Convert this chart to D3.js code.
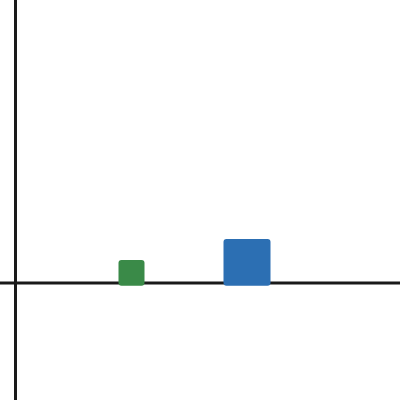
<!DOCTYPE html>
<html>
<head>
<meta charset="utf-8">
<script src="https://cdn.jsdelivr.net/npm/d3@7"></script>
<style>
  body { margin: 0; background: #fff; }
</style>
</head>
<body>
<script>
// data
const names = ["A", "B"];
const starts = [103, 208];
const ends = [129, 255];
const values = [23, 44];
const base = -2.7;
const colors = ["#3a8a48", "#2c6fb3"];

const w = 400, h = 400;

const svg = d3.select("body").append("svg")
    .attr("width", w)
    .attr("height", h);

// scales
const x = d3.scaleLinear().domain([0, 384.5]).range([15.5, 400]);
const y = d3.scaleLinear().domain([-117, 283]).range([h, 0]);

// axes lines through zero (drawn first, bars sit on top)
svg.append("line")
    .attr("x1", 0).attr("x2", w)
    .attr("y1", y(0)).attr("y2", y(0))
    .style("stroke", "#1a1a1a")
    .style("stroke-width", 3);

svg.append("line")
    .attr("x1", x(0)).attr("x2", x(0))
    .attr("y1", 0).attr("y2", h)
    .style("stroke", "#1a1a1a")
    .style("stroke-width", 3);

// bars
svg.selectAll(".bar")
    .data(names)
    .enter()
    .append("rect")
    .attr("class", "bar")
    .attr("x", (d, i) => x(starts[i]))
    .attr("width", (d, i) => x(ends[i]) - x(starts[i]))
    .attr("y", (d, i) => y(values[i]))
    .attr("height", (d, i) => y(base) - y(values[i]))
    .attr("rx", 3)
    .attr("ry", 3)
    .style("fill", (d, i) => colors[i]);
</script>
</body>
</html>
